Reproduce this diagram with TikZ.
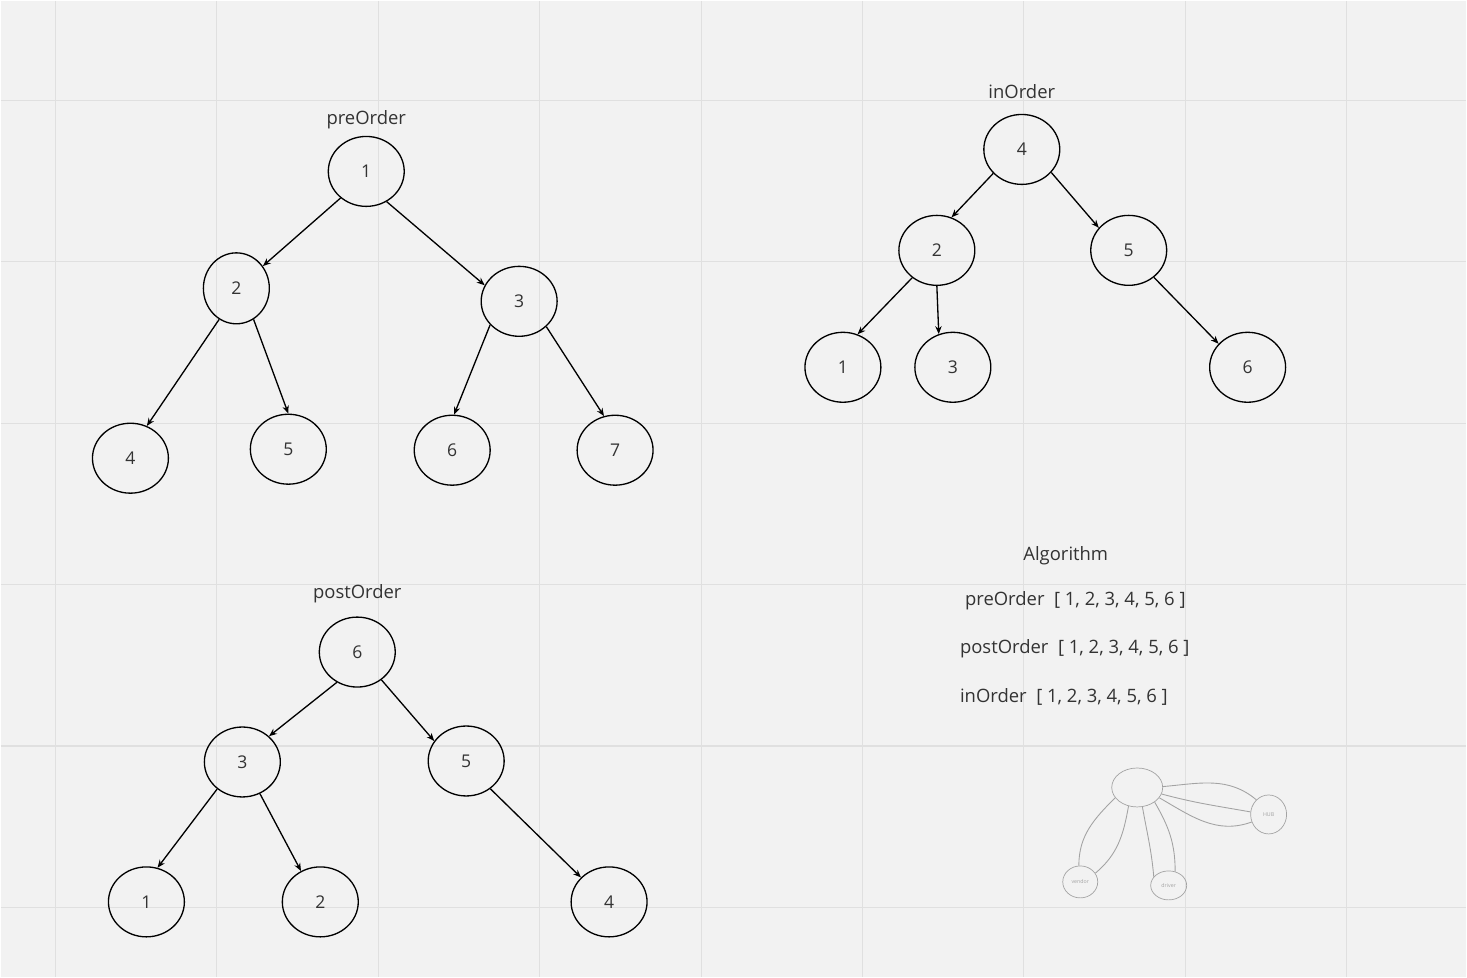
\documentclass[tikz,border=0pt]{standalone}
\usepackage{fontspec}
\setmainfont{Open Sans}
\usetikzlibrary{positioning, shapes.geometric, arrows.meta}
\definecolor{canvas}{HTML}{F2F2F2}
\definecolor{gridline}{HTML}{E0E0E0}
\definecolor{ink}{HTML}{333333}
\definecolor{faint}{HTML}{A3A3A3}
\tikzset{
    vertex/.style = {ellipse, draw = black, line width = 0.75pt, minimum width = 1.52cm, minimum height = 1.4cm, inner sep = 0pt, text = ink, font = \fontsize{10}{12}\selectfont},
    title/.style = {text = ink, font = \fontsize{10.5}{12}\selectfont},
    edge/.style = {-{Stealth[length = 4.5pt, width = 3.6pt]}, line width = 0.75pt},
    sketch/.style = {ellipse, draw = faint, line width = 0.4pt, inner sep = 0pt, text = faint, font = \fontsize{3}{3}\selectfont},
    link/.style = {draw = faint, line width = 0.5pt}
}

\begin{document}
\begin{tikzpicture}[x = 0.02cm, y = -0.02cm]
        \fill [canvas] (0, 0) rectangle (1467, 977);
        \foreach \gx in {55, 216.5, 378, 539.5, 701, 862.5, 1024, 1185.5, 1347}
            \draw [gridline, line width = 0.6pt] (\gx, 0) -- (\gx, 977);
        \foreach \gy in {100, 261.5, 423, 584.5, 746, 907.5}
            \draw [gridline, line width = 0.6pt] (0, \gy) -- (1467, \gy);

        % preOrder
        \node [title] (tpre) at (366, 119) {preOrder};
        \node [vertex] (p1) at (366, 171) {1};
        \node [vertex, minimum width = 1.32cm, minimum height = 1.42cm] (p2) at (236, 288) {2};
        \node [vertex] (p3) at (519, 301) {3};
        \node [vertex] (p4) at (130, 458) {4};
        \node [vertex] (p5) at (288, 449) {5};
        \node [vertex] (p6) at (452, 450) {6};
        \node [vertex] (p7) at (615, 450) {7};

        % inOrder
        \node [title] (tin) at (1022, 91) {inOrder};
        \node [vertex] (i4) at (1022, 149) {4};
        \node [vertex] (i2) at (937, 250) {2};
        \node [vertex] (i5) at (1129, 250) {5};
        \node [vertex] (i1) at (843, 367) {1};
        \node [vertex] (i3) at (953, 367) {3};
        \node [vertex] (i6) at (1248, 367) {6};

        % postOrder
        \node [title] (tpost) at (357, 594) {postOrder};
        \node [vertex] (q6) at (357, 652) {6};
        \node [vertex] (q3) at (242, 762) {3};
        \node [vertex] (q5) at (466, 761) {5};
        \node [vertex] (q1) at (146, 902) {1};
        \node [vertex] (q2) at (320, 902) {2};
        \node [vertex] (q4) at (609, 902) {4};

        \foreach \a/\sa/\b/\sb in {p1/226/p2/40, p1/304/p3/155, p2/241/p4/63, p2/299/p5/90, p3/219/p6/87, p3/317/p7/108,
                                   i4/220/i2/66, i4/322/i5/143, i2/228/i1/66, i2/270/i3/113, i5/313/i6/141,
                                   q6/236/q3/44, q6/311/q5/148, q3/227/q1/72, q3/299/q2/122, q5/311/q4/139}
            \draw [edge] (\a.\sa) -- (\b.\sb);

        % Algorithm
        \node [title] (alg) at (1066, 556) {Algorithm};
        \node [title, anchor = west] (lpre) at (959, 601) {preOrder\ \ [ 1, 2, 3, 4, 5, 6 ]};
        \node [title, anchor = west] (lpost) at (954, 649) {postOrder\ \ [ 1, 2, 3, 4, 5, 6 ]};
        \node [title, anchor = west] (lin) at (954, 697) {inOrder\ \ [ 1, 2, 3, 4, 5, 6 ]};

        % sketch
        \node [sketch, minimum width = 1.02cm, minimum height = 0.78cm] (top) at (1137.5, 787.5) {};
        \node [sketch, minimum width = 0.72cm, minimum height = 0.78cm] (hub) at (1269, 814.5) {HUB};
        \node [sketch, minimum width = 0.7cm, minimum height = 0.64cm] (vendor) at (1080.5, 882) {vendor};
        \node [sketch, minimum width = 0.72cm, minimum height = 0.58cm] (driver) at (1169, 885.5) {driver};
        \draw [link] (top.205) to [out = 225, in = 90] (vendor.95);
        \draw [link] (top.245) to [out = 260, in = 40] (vendor.30);
        \draw [link] (top.285) to [out = 280, in = 95] (driver.150);
        \draw [link] (top.320) to [out = 300, in = 90] (driver.65);
        \draw [link] (top.2) to [out = 5, in = 140] (hub.130);
        \draw [link] (top.345) to [out = -15, in = 170] (hub.172);
        \draw [link] (top.335) to [out = -30, in = 200] (hub.204);
    \end{tikzpicture}
\end{document}
